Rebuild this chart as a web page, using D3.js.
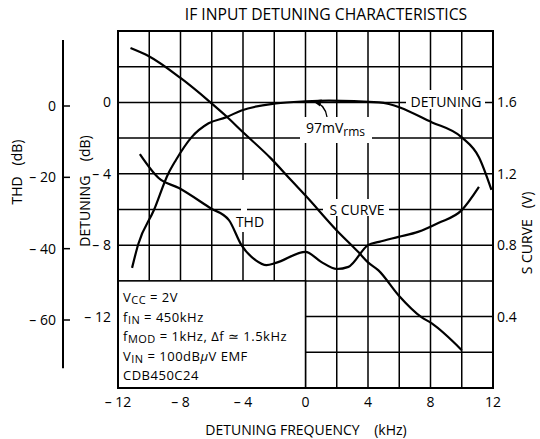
<!DOCTYPE html>
<html>
<head>
<meta charset="utf-8">
<script src="https://cdn.jsdelivr.net/npm/d3@7"></script>
<style>
  html, body { margin: 0; padding: 0; background: #fff; }
  svg { display: block; }
  text { font-family: "Open Sans", "Liberation Sans", sans-serif; fill: #000; }
</style>
</head>
<body>
<svg id="chart" width="540" height="439"></svg>
<script>
// ---- data ----
const xTicks = [-12, -8, -4, 0, 4, 8, 12];
const detTicks = [0, -4, -8, -12];
const thdTicks = [0, -20, -40, -60];
const sTicks = [1.6, 1.2, 0.8, 0.4];

// Detuning curve (kHz, dB)
const detFreq = [-11.1, -10.7, -9.7, -8.8, -8.3, -7.3, -6.2, -5.1, -4.1, -1.9, 0, 1.5, 4.7, 8.1, 10.0, 11.1, 11.9];
const detVal  = [-9.27, -7.93, -6.03, -4.02, -3.24, -1.96, -1.17, -0.84, -0.45, -0.06, 0.06, 0.1, 0.0, -1.12, -1.96, -3.07, -4.9];

// S curve (kHz, V)
const sFreq = [-11.2, -10.05, -8.0, -6.2, -5.1, -4.1, -2.2, -0.9, 0, 2.0, 3.4, 4.0, 4.67, 5.95, 7.42, 8.06, 10.0];
const sVal  = [1.905, 1.86, 1.737, 1.609, 1.525, 1.441, 1.285, 1.162, 1.078, 0.883, 0.76, 0.704, 0.659, 0.52, 0.397, 0.363, 0.212];

// THD curve (kHz, dB)
const thdFreq = [-10.6, -9.4, -8.1, -6.1, -4.9, -4.1, -3.2, -2.5, -1.9, 0, 1.0, 2.0, 2.75, 4.0, 4.7, 5.95, 7.2, 8.5, 10.0, 11.1];
const thdVal  = [-13.5, -20.2, -23.0, -28.6, -32.0, -39.0, -43.2, -44.6, -44.0, -40.9, -43.7, -45.7, -45.1, -39.0, -38.1, -36.7, -35.3, -32.8, -29.2, -22.7];

// ---- layout ----
const L = 118, R = 493, T = 31, B = 388;
const FS = 14;
const svg = d3.select("#chart");

const x = d3.scaleLinear().domain([-12, 12]).range([L, R]);
const yD = d3.scaleLinear().domain([-16, 4]).range([B, T]);
const yS = d3.scaleLinear().domain([0, 2]).range([B, T]);
const yT = d3.scaleLinear().domain([-60, 0]).range([320, 106]);

// grid
const g = svg.append("g").attr("stroke", "#000").attr("stroke-width", 1.5);
d3.range(-10, 12, 2).forEach(v => {
  g.append("line").attr("x1", x(v)).attr("x2", x(v)).attr("y1", T).attr("y2", B);
});
d3.range(-14, 4, 2).forEach(v => {
  g.append("line").attr("x1", L).attr("x2", R).attr("y1", yD(v)).attr("y2", yD(v));
});

// legend box (covers grid)
svg.append("rect").attr("x", x(-12)).attr("y", yD(-10))
  .attr("width", x(0) - x(-12)).attr("height", yD(-16) - yD(-10))
  .attr("fill", "#fff").attr("stroke", "#000").attr("stroke-width", 1.5);

// frame
svg.append("rect").attr("x", L).attr("y", T).attr("width", R - L).attr("height", B - T)
  .attr("fill", "none").attr("stroke", "#000").attr("stroke-width", 2);

// white backgrounds behind curve labels
function bg(x0, y0, x1, y1) {
  svg.append("rect").attr("x", x0).attr("y", y0).attr("width", x1 - x0).attr("height", y1 - y0).attr("fill", "#fff");
}
bg(406, 90, 485, 109);
bg(323, 199, 389, 216);
bg(234, 212, 267, 232);
bg(241, 180, 247, 212);
bg(300, 117, 372, 143);

// curves
const line = (xs, ys, sy) => d3.line().curve(d3.curveMonotoneX)
  .x((d, i) => x(xs[i])).y((d, i) => sy(ys[i]))(xs);
const curveStyle = p => p.attr("fill", "none").attr("stroke", "#000").attr("stroke-width", 2.2).attr("stroke-linejoin", "round");
svg.append("path").attr("d", line(detFreq, detVal, yD)).call(curveStyle);
svg.append("path").attr("d", line(sFreq, sVal, yS)).call(curveStyle);
svg.append("path").attr("d", line(thdFreq, thdVal, yT)).call(curveStyle);

// curve labels
svg.append("text").attr("x", 446).attr("y", yD(0) + 5).attr("text-anchor", "middle").attr("font-size", FS).text("DETUNING");
svg.append("text").attr("x", 357).attr("y", yD(-6) + 5).attr("text-anchor", "middle").attr("font-size", FS).text("S CURVE");
svg.append("text").attr("x", 250).attr("y", 227).attr("text-anchor", "middle").attr("font-size", FS).text("THD");
const t97 = svg.append("text").attr("x", 306).attr("y", 133).attr("font-size", FS);
t97.append("tspan").text("97mV");
t97.append("tspan").attr("dy", 3).attr("font-size", 12).text("rms");

// arrow for 97mVrms
svg.append("defs").append("marker").attr("id", "ah").attr("viewBox", "0 0 10 10")
  .attr("refX", 9).attr("refY", 5).attr("markerWidth", 7).attr("markerHeight", 7).attr("orient", "auto")
  .append("path").attr("d", "M0,1 L10,5 L0,9 Z").attr("fill", "#000");
svg.append("path").attr("d", "M327,117 Q325,104 313,101")
  .attr("fill", "none").attr("stroke", "#000").attr("stroke-width", 1.3).attr("marker-end", "url(#ah)");

const fmt = v => v < 0 ? "\u2013 " + Math.abs(v) : String(v);

// x axis labels
xTicks.forEach(v => {
  svg.append("text").attr("x", x(v)).attr("y", 407).attr("text-anchor", "middle").attr("font-size", FS).text(fmt(v));
});
svg.append("text").attr("x", 306).attr("y", 435).attr("text-anchor", "middle").attr("font-size", FS)
  .attr("xml:space", "preserve").style("white-space", "pre").text("DETUNING FREQUENCY    (kHz)");

// detuning axis labels (left of frame)
detTicks.forEach(v => {
  svg.append("text").attr("x", 111).attr("y", yD(v) + 5).attr("text-anchor", "end").attr("font-size", FS).text(fmt(v));
});
svg.append("text").attr("transform", "translate(90,191) rotate(-90)").attr("text-anchor", "middle")
  .attr("font-size", FS).attr("xml:space", "preserve").style("white-space", "pre").text("DETUNING    (dB)");

// THD axis
svg.append("line").attr("x1", 63).attr("x2", 63).attr("y1", yT(18.5)).attr("y2", yT(-73.5))
  .attr("stroke", "#000").attr("stroke-width", 2);
thdTicks.forEach(v => {
  svg.append("line").attr("x1", 63).attr("x2", 70).attr("y1", yT(v)).attr("y2", yT(v)).attr("stroke", "#000").attr("stroke-width", 1.5);
  svg.append("text").attr("x", 56).attr("y", yT(v) + 5).attr("text-anchor", "end").attr("font-size", FS).text(fmt(v));
});
svg.append("text").attr("transform", "translate(22,172) rotate(-90)").attr("text-anchor", "middle")
  .attr("font-size", FS).attr("xml:space", "preserve").style("white-space", "pre").text("THD   (dB)");

// S curve axis (right)
sTicks.forEach(v => {
  svg.append("text").attr("x", 497).attr("y", yS(v) + 5).attr("font-size", FS).text(v.toFixed(1));
});
svg.append("text").attr("transform", "translate(532,233) rotate(-90)").attr("text-anchor", "middle")
  .attr("font-size", FS).attr("xml:space", "preserve").style("white-space", "pre").text("S CURVE   (V)");

// title
svg.append("text").attr("x", 326).attr("y", 20).attr("text-anchor", "middle").attr("font-size", 15.7)
  .text("IF INPUT DETUNING CHARACTERISTICS");

// legend text
const lx = 123, LFS = 13, SFS = 11, SDY = 2;
function legendText(y) {
  return svg.append("text").attr("x", lx).attr("y", y).attr("font-size", LFS).attr("letter-spacing", 0.5);
}
function sub(t, main, subs, rest) {
  t.append("tspan").text(main);
  t.append("tspan").attr("dy", SDY).attr("font-size", SFS).text(subs);
  t.append("tspan").attr("dy", -SDY).text(rest);
}
sub(legendText(302), "V", "CC", " = 2V");
sub(legendText(321.5), "f", "IN", " = 450kHz");
sub(legendText(341), "f", "MOD", " = 1kHz,  \u0394f \u2243 1.5kHz");
{
  const t = legendText(360.5);
  t.append("tspan").text("V");
  t.append("tspan").attr("dy", SDY).attr("font-size", SFS).text("IN");
  t.append("tspan").attr("dy", -SDY).text(" = 100dB");
  t.append("tspan").attr("font-style", "italic").text("\u03bc");
  t.append("tspan").text("V  EMF");
}
legendText(380).text("CDB450C24");
</script>
</body>
</html>
